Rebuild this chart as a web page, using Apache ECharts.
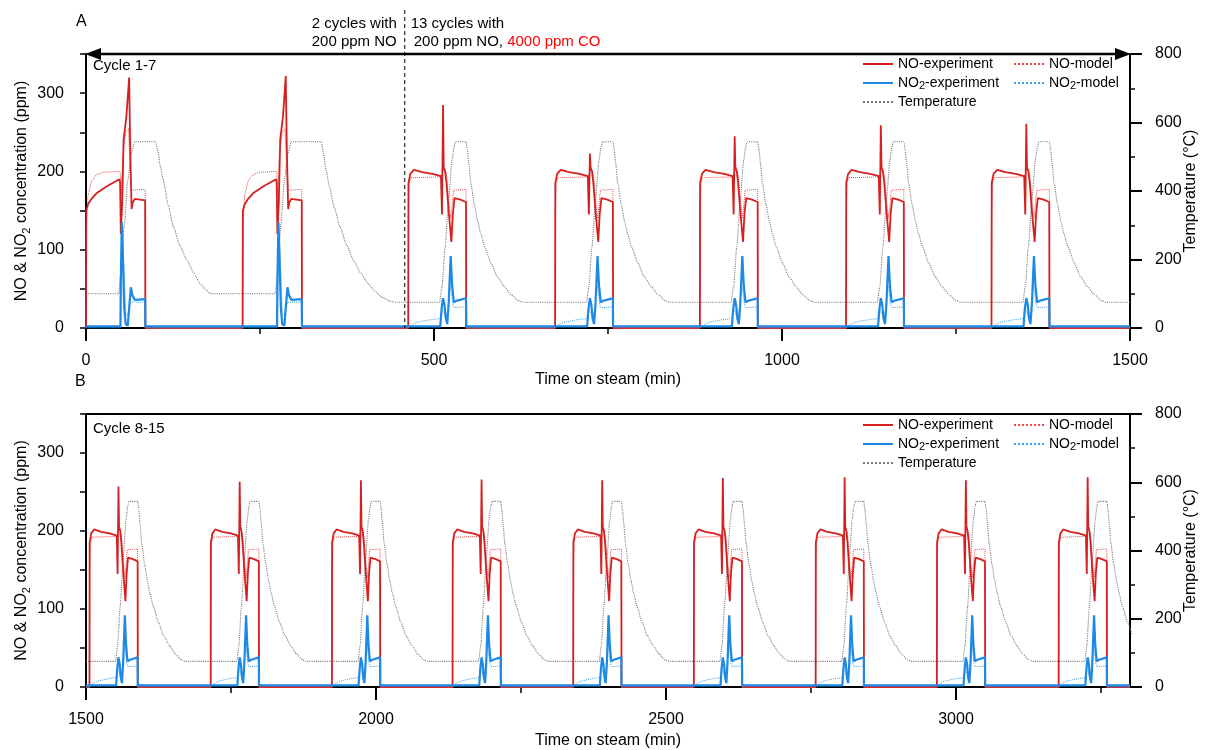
<!DOCTYPE html>
<html><head><meta charset="utf-8">
<script src="https://cdn.jsdelivr.net/npm/echarts@6/dist/echarts.min.js"></script>
<style>html,body{margin:0;padding:0;background:#fff}#main{width:1207px;height:750px}</style>
</head><body><div id="main"></div>
<script>
// ================= DATA =================
// start time (min) of each NO feed cycle
const cycleStarts = [0, 225, 463, 674, 882, 1092, 1301, 1506, 1715, 1924, 2132, 2340, 2548, 2758, 2967, 3177];
// which profile each cycle follows
const cycleKind = ['noCO1','noCO2','CO','CO','CO','CO','CO','CO','CO','CO','CO','CO','CO','CO','CO','CO'];
// height of the NO spike (ppm) in each cycle
const noSpikes = [320, 322, 285, 223, 245, 259, 261, 257, 263, 265, 266, 265, 268, 269, 265, 269];

// profiles: [minutes after cycle start, value]; null = the cycle's NO spike
const noCO_NOexp = [[0,0],[0.4,150],[3,158],[8,165],[15,172],[30,181],[48,190],[49,186],[50,120],[52,160],[54,240],[58,270],[62,null],[63.5,230],[65.5,152],[67,160],[70,165],[85,163],[85.3,0]];
const noCO_NOmodel = [[0,0],[0.4,130],[3,170],[8,188],[15,196],[25,199],[49,200],[50.5,170],[53,220],[57,250],[61,255],[63.5,200],[65.5,176],[85,177],[85.3,0]];
const noCO_NO2exp = [[0,2],[49.5,2],[50,60],[51.5,135],[53,90],[55,25],[57,5],[60,3],[62,25],[64.5,52],[66.5,42],[70,36],[85,37],[85.3,2]];
const noCO_NO2model = [[0,0],[49.5,0],[51,60],[52.5,125],[54.5,80],[57,20],[60,15],[63,30],[66,33],[85,33],[85.3,0]];
const noCO1_temp = [[47,100],[50,160],[55,300],[60,430],[65,510],[70,544],[100,544],[103,520],[107,470],[111,432],[118,360],[125.5,296],[135,240],[145,198],[155,160],[164,130],[172,112],[178,102],[180,100]];
const noCO2_temp = [[47,100],[50,160],[55,300],[60,430],[65,510],[70,544],[113,544],[116,510],[120,460],[125,410],[132,350],[140,295],[150,240],[160,195],[170,160],[180,130],[190,108],[200,90],[212,78],[220,75]];

const CO_NOexp = [[0,0],[0.3,185],[3,197],[8,202],[20,199],[35,197],[47,194],[48.5,145],[50,null],[51,205],[53,200],[55,185],[58,150],[62,110],[64,145],[66.5,166],[75,164],[83,161],[83.3,0]];
const CO_NOmodel = [[0,0],[0.3,150],[1.5,185],[4,192],[47,193],[49,198],[52,205],[55,195],[58,165],[61,140],[63,155],[65,176],[83,177],[83.3,0]];
const CO_NO2exp = [[0,2],[46,2],[48,25],[50,38],[52,30],[54,12],[56,5],[58,30],[61,92],[63,55],[65.5,33],[70,35],[83,38],[83.3,2]];
const CO_NO2model = [[0,0],[5,4],[12,7],[22,9],[35,11],[46,12],[48,25],[51,20],[54,10],[57,25],[60,55],[62,45],[64,30],[66,26],[83,27],[83.3,0]];
const CO_temp = [[45,75],[48.5,121],[53,237],[58,374],[63,490],[66,530],[68,544],[83,544],[85,520],[87,481],[90,422],[95,360],[100,310],[104,276],[110,236],[119,189],[128,150],[138,121],[148,97],[158,80],[165,75]];

// values at the panel edges (baselines)
const panelARange = [0, 1500];
const panelBRange = [1500, 3300];
const edgeNO = [0, 0];          // NO experiment / model
const edgeNO2exp = [2, 2];
const edgeNO2model = [0, 0];
const edgeTempA = [100, 75];
const edgeTempB = [75, 75];
const dividerTime = 458;         // dashed line: 2 cycles | 13 cycles

// axis ticks
const xTicksA = [0, 500, 1000, 1500];
const xMinorA = [250, 750, 1250];
const xTicksB = [1500, 2000, 2500, 3000];
const xMinorB = [1750, 2250, 2750, 3250];

// ================= BUILD =================
const profiles = {
  noCO1: {NOexp: noCO_NOexp, NOmodel: noCO_NOmodel, NO2exp: noCO_NO2exp, NO2model: noCO_NO2model, temp: noCO1_temp},
  noCO2: {NOexp: noCO_NOexp, NOmodel: noCO_NOmodel, NO2exp: noCO_NO2exp, NO2model: noCO_NO2model, temp: noCO2_temp},
  CO:    {NOexp: CO_NOexp,   NOmodel: CO_NOmodel,   NO2exp: CO_NO2exp,   NO2model: CO_NO2model,   temp: CO_temp}
};
function buildSeries(key, range, edge) {
  const out = [[range[0], edge[0]]];
  cycleStarts.forEach((s, i) => {
    if (s < range[0] || s >= range[1]) return;
    profiles[cycleKind[i]][key].forEach(([o, v]) => out.push([s + o, v === null ? noSpikes[i] : v]));
  });
  const last = out[out.length - 1][0];
  if (last < range[1]) out.push([range[1], edge[1]]);
  return out;
}

const FONT = 'Liberation Sans, Arial, sans-serif';
const subRich = {sub: {fontSize: 11, verticalAlign: 'bottom', lineHeight: 12, fontFamily: FONT, color: '#000'}};
const C = {NOexp: '#d62020', NOmodel: '#f04848', NO2exp: '#1e88e5', NO2model: '#3aa0f0', temp: '#7a7a7a'};

function xMain(grid, range, ticks) {
  return {gridIndex: grid, type: 'value', min: range[0], max: range[1], position: 'bottom',
    name: 'Time on steam (min)', nameLocation: 'middle', nameGap: grid === 0 ? 44 : 46, nameMoveOverlap: false,
    nameTextStyle: {fontSize: 16, color: '#000', fontFamily: FONT},
    axisLine: {show: true, onZero: false, lineStyle: {color: '#000', width: 2}},
    axisTick: {show: true, customValues: ticks, length: 13, lineStyle: {color: '#000', width: 2}},
    axisLabel: {customValues: ticks, fontSize: 16, color: '#000', margin: 25, fontFamily: FONT,
      formatter: v => String(v)},
    splitLine: {show: false}};
}
function xMinor(grid, range, ticks) {
  return {gridIndex: grid, type: 'value', min: range[0], max: range[1], position: 'bottom',
    axisLine: {show: false, onZero: false}, axisLabel: {show: false}, splitLine: {show: false},
    axisTick: {show: true, customValues: ticks, length: 6, lineStyle: {color: '#000', width: 1.5}}};
}
function yLeft(grid) {
  return {gridIndex: grid, type: 'value', min: 0, max: 350, interval: 50, position: 'left',
    name: 'NO & NO{sub|2} concentration (ppm)', nameLocation: 'middle', nameGap: 54, nameMoveOverlap: false,
    nameTextStyle: {fontSize: 16, color: '#000', fontFamily: FONT, lineHeight: 20, rich: subRich},
    axisLine: {show: true, onZero: false, lineStyle: {color: '#000', width: 2}},
    axisTick: {show: true, length: 6, lineStyle: {color: '#000', width: 1.5}},
    axisLabel: {fontSize: 16, color: '#000', margin: 22, fontFamily: FONT,
      formatter: v => (v % 100 === 0 && v < 350) ? String(v) : ''},
    splitLine: {show: false}};
}
function yRight(grid) {
  return {gridIndex: grid, type: 'value', min: 0, max: 800, interval: 200, position: 'right',
    name: 'Temperature (\u00B0C)', nameLocation: 'middle', nameGap: 53, nameMoveOverlap: false,
    nameTextStyle: {fontSize: 16, color: '#000', fontFamily: FONT},
    axisLine: {show: true, onZero: false, lineStyle: {color: '#000', width: 2}},
    axisTick: {show: true, length: 12, lineStyle: {color: '#000', width: 2}},
    minorTick: {show: true, splitNumber: 2, length: 5, lineStyle: {color: '#000', width: 1.5}},
    axisLabel: {fontSize: 16, color: '#000', margin: 25, fontFamily: FONT},
    splitLine: {show: false}, minorSplitLine: {show: false}};
}

function panelSeries(xi, yl, yr, range, edgeTemp) {
  const mk = (name, key, edge, yi, color, width, type, z) => ({
    name, type: 'line', xAxisIndex: xi, yAxisIndex: yi, data: buildSeries(key, range, edge),
    showSymbol: false, symbol: 'none', clip: true, z, animation: false,
    smooth: key === 'temp' ? 0.2 : false, smoothMonotone: 'x',
    lineStyle: {color, width, type}, itemStyle: {color}
  });
  return [
    mk('Temperature', 'temp', edgeTemp, yr, C.temp, 1.1, 'dotted', 2),
    mk('NO-model', 'NOmodel', edgeNO, yl, C.NOmodel, 1, 'dotted', 3),
    mk('NO-experiment', 'NOexp', edgeNO, yl, C.NOexp, 1.8, 'solid', 4),
    mk('NO2-model', 'NO2model', edgeNO2model, yl, C.NO2model, 1, 'dotted', 5),
    mk('NO2-experiment', 'NO2exp', edgeNO2exp, yl, C.NO2exp, 2.2, 'solid', 6)
  ];
}

function legend(left, top, names) {
  return {orient: 'vertical', left, top, itemWidth: 30, itemHeight: 12, itemGap: 3,
    data: names,
    itemStyle: {opacity: 0},
    formatter: n => n.replace('NO2', 'NO{sub|2}'),
    textStyle: {fontSize: 14, color: '#000', fontFamily: FONT, lineHeight: 16, rich: subRich},
    selectedMode: false};
}

const chart = echarts.init(document.getElementById('main'));
chart.setOption({
  animation: false,
  backgroundColor: '#fff',
  grid: [
    {left: 86, top: 54, width: 1044, height: 274},
    {left: 86, top: 414, width: 1047, height: 274}
  ],
  xAxis: [xMain(0, panelARange, xTicksA), xMinor(0, panelARange, xMinorA),
          xMain(1, panelBRange, xTicksB), xMinor(1, panelBRange, xMinorB)],
  yAxis: [yLeft(0), yRight(0), yLeft(1), yRight(1)],
  legend: [
    legend(857, 51, ['NO-experiment', 'NO2-experiment', 'Temperature']),
    legend(1008, 51, ['NO-model', 'NO2-model']),
    legend(857, 412, ['NO-experiment', 'NO2-experiment', 'Temperature']),
    legend(1008, 412, ['NO-model', 'NO2-model'])
  ],
  series: [
    ...panelSeries(0, 0, 1, panelARange, edgeTempA),
    ...panelSeries(2, 2, 3, panelBRange, edgeTempB)
  ]
});

// annotations (positions from the axes where data-related)
const xDiv = chart.convertToPixel({xAxisIndex: 0}, dividerTime);
const txt = (x, y, text, extra) => ({type: 'text', x, y, z: 100,
  style: Object.assign({text, fontSize: 15, fill: '#000', fontFamily: FONT}, extra || {})});
chart.setOption({
  graphic: [
    txt(76, 14, 'A', {fontSize: 16}),
    txt(75, 374, 'B', {fontSize: 16}),
    txt(93, 58, 'Cycle 1-7'),
    txt(93, 421, 'Cycle 8-15'),
    txt(xDiv - 8, 16, '2 cycles with', {align: 'right'}),
    txt(xDiv - 8, 34, '200 ppm NO', {align: 'right'}),
    txt(xDiv + 6, 16, '13 cycles with'),
    {type: 'text', x: xDiv + 9, y: 34, z: 100, style: {
      text: '200 ppm NO, {r|4000 ppm CO}', fontSize: 15, fill: '#000', fontFamily: FONT,
      rich: {r: {fill: '#ff0000', fontSize: 15, fontFamily: FONT}}}},
    {type: 'line', z: 100, shape: {x1: xDiv, y1: 10, x2: xDiv, y2: 328},
      style: {stroke: '#000', lineWidth: 1, lineDash: [4, 3]}},
    // double-headed arrow on top of panel A
    {type: 'line', z: 100, shape: {x1: 92, y1: 54, x2: 1122, y2: 54}, style: {stroke: '#000', lineWidth: 2.5}},
    {type: 'polygon', z: 100, shape: {points: [[85, 54], [101, 48], [101, 60]]}, style: {fill: '#000'}},
    {type: 'polygon', z: 100, shape: {points: [[1131, 54], [1115, 48], [1115, 60]]}, style: {fill: '#000'}},
    // top border of panel B
    {type: 'line', z: 100, shape: {x1: 86, y1: 414, x2: 1133, y2: 414}, style: {stroke: '#000', lineWidth: 2}}
  ]
});
</script>
</body></html>
